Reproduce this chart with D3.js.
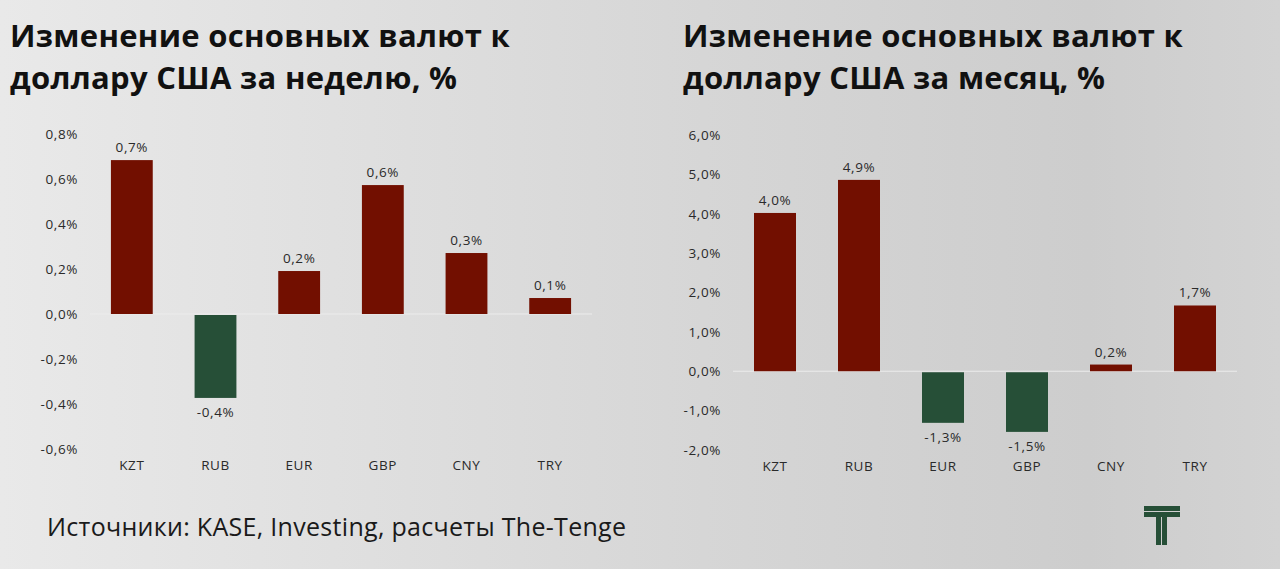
<!DOCTYPE html>
<html>
<head>
<meta charset="utf-8">
<script src="https://cdn.jsdelivr.net/npm/d3@7"></script>
<style>
  body { margin: 0; }
  svg { display: block; font-family: "Open Sans", sans-serif; }
</style>
</head>
<body>
<svg id="chart" width="1280" height="569"></svg>
<script>
// data
const categories = ["KZT", "RUB", "EUR", "GBP", "CNY", "TRY"];
const weekValues = [0.684, -0.373, 0.191, 0.573, 0.271, 0.071];
const monthValues = [4.02, 4.86, -1.31, -1.54, 0.17, 1.67];
const weekTicks = [0.8, 0.6, 0.4, 0.2, 0, -0.2, -0.4, -0.6];
const monthTicks = [6, 5, 4, 3, 2, 1, 0, -1, -2];
const weekTitle = ["Изменение основных валют к", "доллару США за неделю, %"];
const monthTitle = ["Изменение основных валют к", "доллару США за месяц, %"];
const source = "Источники: KASE, Investing, расчеты The-Tenge";

const red = "#720f00";
const green = "#264f37";

const svg = d3.select("#chart");

// background
const defs = svg.append("defs");
const grad = defs.append("linearGradient")
  .attr("id", "bg")
  .attr("x1", "0").attr("y1", "0").attr("x2", "1").attr("y2", "0");
grad.append("stop").attr("offset", "0%").attr("stop-color", "#e9e9e9");
grad.append("stop").attr("offset", "55%").attr("stop-color", "#d6d6d6");
grad.append("stop").attr("offset", "85%").attr("stop-color", "#cdcdcd");
grad.append("stop").attr("offset", "100%").attr("stop-color", "#d3d3d3");
svg.append("rect").attr("width", 1280).attr("height", 569).attr("fill", "url(#bg)");

const fmt = v => d3.format(".1f")(v).replace(".", ",").replace("−", "-") + "%";

function styleText(sel) {
  sel.attr("font-size", 13.5)
    .attr("letter-spacing", 0.6)
    .attr("fill", "#2a2a2a")
    .attr("font-family", "Open Sans");
}

function drawChart(opts) {
  const g = svg.append("g");

  // title
  const title = g.append("text")
    .attr("x", opts.titleX)
    .attr("y", 47)
    .attr("font-size", 31)
    .attr("letter-spacing", 0.3)
    .attr("font-weight", 700)
    .attr("fill", "#111");
  opts.title.forEach((line, i) => {
    title.append("tspan").attr("x", opts.titleX).attr("dy", i ? 42 : 0).text(line);
  });

  const x = d3.scaleBand()
    .domain(categories)
    .range(opts.xRange)
    .paddingInner(0.5)
    .paddingOuter(0.25);

  const y = d3.scaleLinear()
    .domain(d3.extent(opts.ticks))
    .range(opts.yRange);

  // y axis
  const yAxis = g.append("g")
    .attr("transform", "translate(" + opts.xRange[0] + ",0)")
    .call(d3.axisLeft(y).tickValues(opts.ticks).tickSize(0).tickPadding(12).tickFormat(fmt));
  yAxis.select(".domain").remove();
  styleText(yAxis.selectAll("text"));

  // x axis (labels only)
  const xAxis = g.append("g")
    .attr("transform", "translate(0," + opts.yRange[0] + ")")
    .call(d3.axisBottom(x).tickSize(0).tickPadding(11));
  xAxis.select(".domain").remove();
  styleText(xAxis.selectAll("text"));

  // zero line
  g.append("line")
    .attr("x1", opts.xRange[0]).attr("x2", opts.xRange[1])
    .attr("y1", y(0)).attr("y2", y(0))
    .attr("stroke", "#ececec").attr("stroke-width", 1);

  // bars
  g.selectAll(".bar")
    .data(opts.values)
    .enter()
    .append("rect")
    .attr("x", (d, i) => x(categories[i]))
    .attr("y", d => d >= 0 ? y(d) : y(0) + 1)
    .attr("width", x.bandwidth())
    .attr("height", d => Math.abs(y(d) - y(0)) - (d >= 0 ? 0 : 1))
    .attr("fill", d => d >= 0 ? red : green);

  // value labels
  styleText(g.selectAll(".lbl")
    .data(opts.values)
    .enter()
    .append("text")
    .attr("x", (d, i) => x(categories[i]) + x.bandwidth() / 2)
    .attr("y", d => d >= 0 ? y(d) - 8 : y(d) + 19)
    .attr("text-anchor", "middle")
    .text(d => fmt(d)));
}

drawChart({
  title: weekTitle, titleX: 10,
  values: weekValues, ticks: weekTicks,
  xRange: [90, 592], yRange: [449, 134]
});

drawChart({
  title: monthTitle, titleX: 683,
  values: monthValues, ticks: monthTicks,
  xRange: [733, 1237], yRange: [450, 135]
});

// source
svg.append("text")
  .attr("x", 47).attr("y", 536)
  .attr("font-size", 25)
  .attr("letter-spacing", 0.3)
  .attr("fill", "#1a1a1a")
  .text(source);

// logo
const logo = svg.append("g").attr("fill", green);
logo.append("rect").attr("x", 1144).attr("y", 506).attr("width", 36).attr("height", 5);
logo.append("rect").attr("x", 1144).attr("y", 512).attr("width", 36).attr("height", 5);
logo.append("rect").attr("x", 1156).attr("y", 517).attr("width", 5).attr("height", 28);
logo.append("rect").attr("x", 1162).attr("y", 517).attr("width", 5).attr("height", 28);
</script>
</body>
</html>
